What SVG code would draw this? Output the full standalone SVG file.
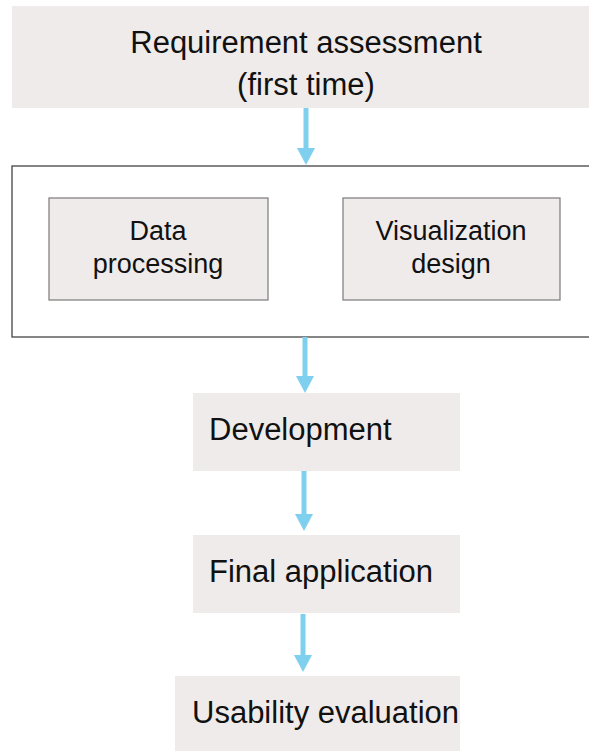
<svg xmlns="http://www.w3.org/2000/svg" width="589" height="751" viewBox="0 0 589 751">
<style>
.box{fill:#efebea;}
.sub{fill:#efebea;stroke:#7a7a7a;stroke-width:1.2;}
.t{font-family:"Liberation Sans",Arial,sans-serif;fill:#111;}
.big{font-size:31px;}
.mid{font-size:27px;}
.conn line{stroke:#7fd0ef;stroke-width:5;}
.conn polygon{fill:#7fd0ef;}
</style>
<rect width="589" height="751" fill="#fff"/>
<g id="req">
<rect class="box" x="12" y="6" width="590" height="102"/>
<text class="t big" x="306" y="53" text-anchor="middle">Requirement assessment</text>
<text class="t big" x="306" y="95" text-anchor="middle">(first time)</text>
</g>
<g id="group">
<rect x="12" y="166" width="600" height="171" fill="#fff" stroke="#444" stroke-width="1.3"/>
</g>
<g id="data">
<rect class="sub" x="49" y="198" width="219" height="102"/>
<text class="t mid" x="158" y="240" text-anchor="middle">Data</text>
<text class="t mid" x="158" y="273" text-anchor="middle">processing</text>
</g>
<g id="vis">
<rect class="sub" x="343" y="198" width="217" height="102"/>
<text class="t mid" x="451" y="240" text-anchor="middle">Visualization</text>
<text class="t mid" x="451" y="273" text-anchor="middle">design</text>
</g>
<g id="dev">
<rect class="box" x="193" y="393" width="267" height="78"/>
<text class="t big" x="209" y="440">Development</text>
</g>
<g id="final">
<rect class="box" x="193" y="535" width="267" height="78"/>
<text class="t big" x="209" y="582">Final application</text>
</g>
<g id="usab">
<rect class="box" x="175" y="676" width="285" height="75"/>
<text class="t big" x="192" y="723">Usability evaluation</text>
</g>
<g class="conn">
<line x1="306" y1="108" x2="306" y2="150"/>
<polygon points="297,148 315,148 306,165"/>
<line x1="305" y1="337" x2="305" y2="378"/>
<polygon points="296,376 314,376 305,393"/>
<line x1="304" y1="471" x2="304" y2="516"/>
<polygon points="295,514 313,514 304,531"/>
<line x1="303" y1="614" x2="303" y2="657"/>
<polygon points="294,655 312,655 303,672"/>
</g>
</svg>
